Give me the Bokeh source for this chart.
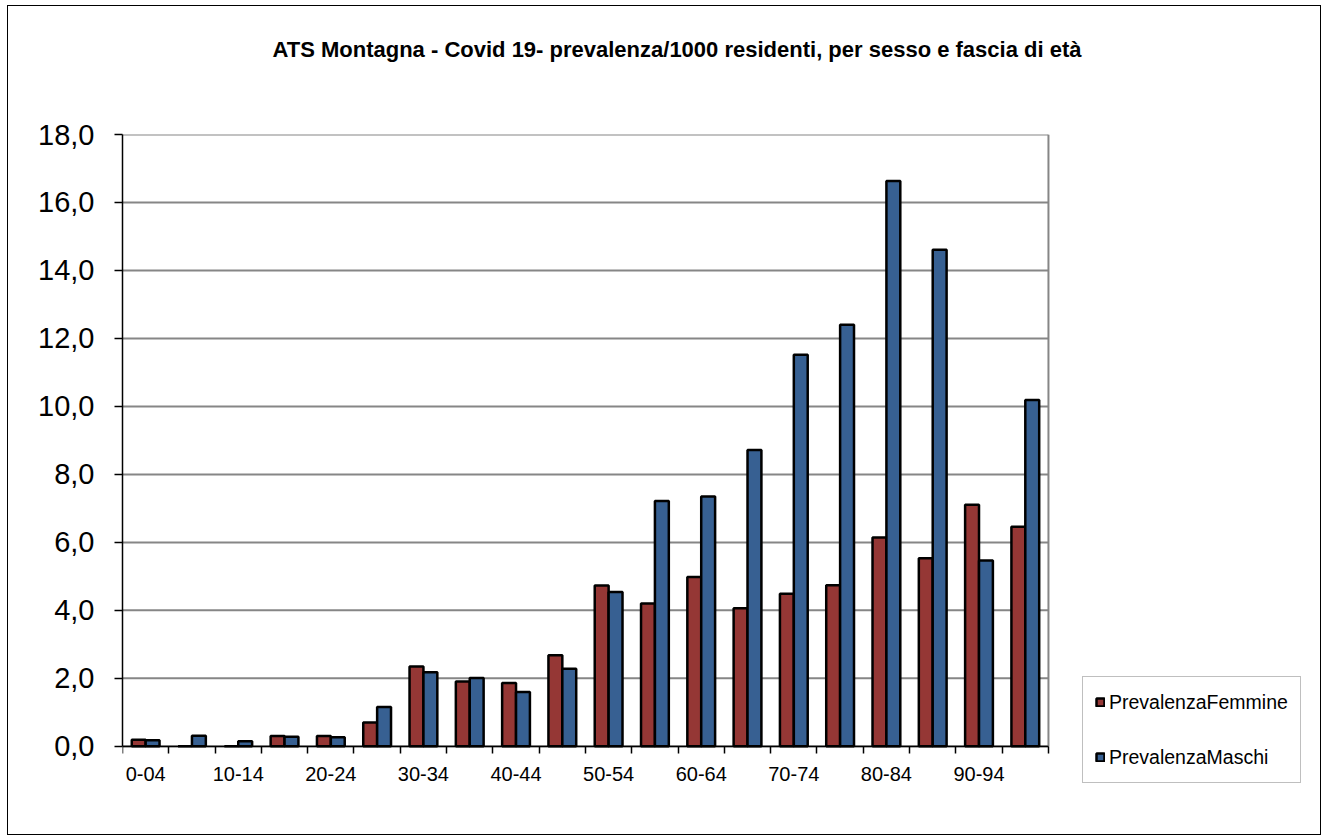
from bokeh.plotting import figure
from bokeh.models import (ColumnDataSource, Range1d, FixedTicker, CustomJSTickFormatter,
                          Legend, LegendItem, Title)
from bokeh.embed import file_html
from bokeh.resources import INLINE

# ---- data ----
age_groups = ["0-04", "05-09", "10-14", "15-19", "20-24", "25-29", "30-34", "35-39",
              "40-44", "45-49", "50-54", "55-59", "60-64", "65-69", "70-74", "75-79",
              "80-84", "85-89", "90-94", "95+"]
prev_femmine = [0.19, 0.0, 0.0, 0.30, 0.30, 0.70, 2.35, 1.91, 1.86, 2.68,
                4.73, 4.20, 4.98, 4.06, 4.49, 4.74, 6.14, 5.53, 7.11, 6.46]
prev_maschi = [0.18, 0.31, 0.15, 0.28, 0.27, 1.16, 2.18, 2.01, 1.60, 2.28,
               4.54, 7.22, 7.35, 8.72, 11.52, 12.40, 16.63, 14.61, 5.47, 10.19]
y_ticks = [0, 2, 4, 6, 8, 10, 12, 14, 16, 18]
title_text = "ATS Montagna - Covid 19- prevalenza/1000 residenti, per sesso e fascia di età"
series_names = ["PrevalenzaFemmine", "PrevalenzaMaschi"]
colors = ["#953735", "#376092"]

FONT = "Liberation Sans"
GRID = "#868686"
n = len(age_groups)
y_max = y_ticks[-1]
centers = [i + 0.5 for i in range(n)]

src = ColumnDataSource(dict(
    xf=[c - 0.15 for c in centers],
    xm=[c + 0.15 for c in centers],
    f=prev_femmine,
    m=prev_maschi,
    age=age_groups,
))

# frame extends right/below the value area to host the legend and x labels
p = figure(frame_width=1188, frame_height=656, output_backend="svg", toolbar_location=None,
           x_range=Range1d(0, 25.66), y_range=Range1d(-1.30, y_max),
           min_border_left=114, min_border_right=10, min_border_top=128,
           min_border_bottom=44)
p.styles = {"border": "1px solid #000000", "margin-left": "7px", "margin-top": "5px"}

# real title (outermost)
p.title.text = title_text
p.title.align = "left"
p.title.offset = 150
p.title.vertical_align = "bottom"
p.title.standoff = 0
p.title.text_font = FONT
p.title.text_font_style = "bold"
p.title.text_font_size = "22px"
p.title.text_color = "#000000"

# spacer title between the title and the plot area
spacer = Title(text=" ", text_font=FONT, text_font_size="10px", standoff=60)
p.add_layout(spacer, "above")

p.outline_line_color = None
p.xgrid.grid_line_color = None
p.ygrid.grid_line_color = None

# horizontal grid lines over the value area and the right edge of the plot area
p.segment(x0=[0] * len(y_ticks), x1=[n] * len(y_ticks), y0=y_ticks, y1=y_ticks,
          line_color=GRID, line_width=2)
p.segment(x0=[n], x1=[n], y0=[0], y1=[y_max], line_color=GRID, line_width=2)

rf = p.vbar(x="xf", top="f", width=0.30, source=src, fill_color=colors[0],
            line_color="#000000", line_width=2.5)
rm = p.vbar(x="xm", top="m", width=0.30, source=src, fill_color=colors[1],
            line_color="#000000", line_width=2.5)

# y axis
p.yaxis.bounds = (0, y_max)
p.yaxis.ticker = FixedTicker(ticks=y_ticks, minor_ticks=[])
p.yaxis.formatter = CustomJSTickFormatter(code="return tick.toFixed(1).replace('.', ',');")
p.yaxis.major_label_text_font = FONT
p.yaxis.major_label_text_font_size = "29px"
p.yaxis.major_label_text_color = "#000000"
p.yaxis.major_tick_out = 8
p.yaxis.major_tick_in = 0
p.yaxis.major_tick_line_color = "#000000"
p.yaxis.major_tick_line_width = 1.5
p.yaxis.major_label_standoff = 20
p.yaxis.axis_line_color = "#000000"
p.yaxis.axis_line_width = 1.5
p.yaxis.minor_tick_line_color = None

# x axis
p.xaxis.fixed_location = 0
p.xaxis.bounds = (0, n)
p.xaxis.ticker = FixedTicker(ticks=centers[::2], minor_ticks=list(range(n + 1)))
p.xaxis.formatter = CustomJSTickFormatter(args=dict(labels=age_groups),
                                          code="return labels[Math.floor(tick)];")
p.xaxis.major_label_text_font = FONT
p.xaxis.major_label_text_font_size = "20px"
p.xaxis.major_label_text_color = "#000000"
p.xaxis.major_tick_out = 0
p.xaxis.major_tick_in = 0
p.xaxis.minor_tick_out = 7
p.xaxis.minor_tick_in = 0
p.xaxis.minor_tick_line_color = "#000000"
p.xaxis.minor_tick_line_width = 1.5
p.xaxis.major_label_standoff = 14
p.xaxis.axis_line_color = "#000000"
p.xaxis.axis_line_width = 1.5

legend = Legend(items=[LegendItem(label=series_names[0], renderers=[rf]),
                       LegendItem(label=series_names[1], renderers=[rm])],
                location=(960, 7))
legend.label_text_font = FONT
legend.label_text_font_size = "19.5px"
legend.label_text_color = "#000000"
legend.glyph_width = 10
legend.glyph_height = 10
legend.label_height = 26
legend.label_standoff = 4
legend.spacing = 29
legend.padding = 12
legend.margin = 0
legend.border_line_color = "#7f7f7f"
legend.border_line_width = 1
legend.background_fill_color = "#ffffff"
p.add_layout(legend, "center")

open("out.html", "w").write(file_html(p, INLINE))
